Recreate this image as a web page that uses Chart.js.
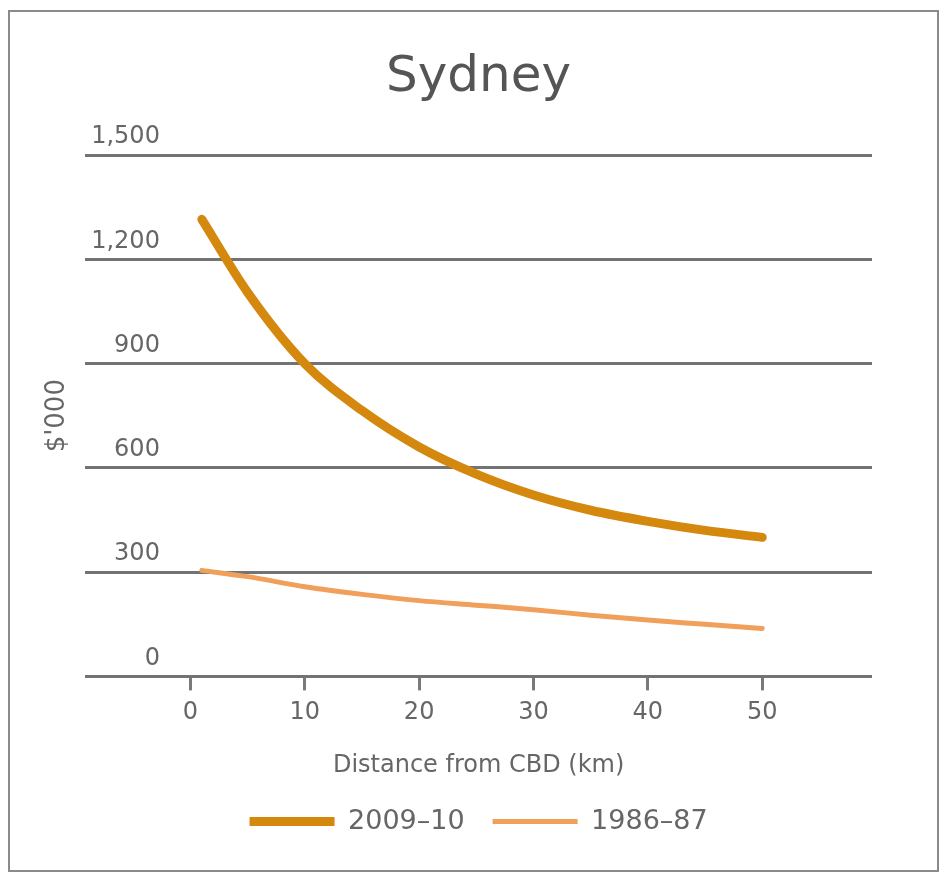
<!DOCTYPE html>
<html>
<head>
<meta charset="utf-8">
<script src="https://cdn.jsdelivr.net/npm/chart.js@4"></script>
<style>
    body { margin: 0; background: #fff; }
    #wrap { position: relative; width: 939px; height: 873px; }
    #frame {
        position: absolute; left: 8px; top: 10px; width: 927px; height: 858px;
        border: 2px solid #8a8a8a; pointer-events: none;
    }
</style>
</head>
<body>
<div id="wrap">
    <canvas id="sydney"></canvas>
    <div id="frame"></div>
</div>
<script>
// distance from CBD (km)
const distances = [1, 5, 10, 15, 20, 25, 30, 35, 40, 45, 50];
// dwelling prices $'000
const prices2009 = [1315, 1105, 900, 765, 660, 582, 522, 478, 446, 420, 400];
const prices1986 = [305, 287, 258, 236, 218, 205, 192, 176, 162, 150, 138];
// tick labels
const xTicks = [0, 10, 20, 30, 40, 50];
const yTicks = [0, 300, 600, 900, 1200, 1500];

const FONT = "'DejaVu Sans', sans-serif";
const GREY = "#666";

// pair the distances with each series
const toPoints = (values) => values.map((v, i) => ({ x: distances[i], y: v }));

const context = document.getElementById("sydney").getContext("2d");
const sydneyChart = new Chart(context, {
    type: "line",
    data: {
        datasets: [
            {
                label: "2009\u201310",
                data: toPoints(prices2009),
                borderColor: "#D4880E",
                backgroundColor: "#D4880E",
                borderWidth: 9,
                pointStyle: "line",
            },
            {
                label: "1986\u201387",
                data: toPoints(prices1986),
                borderColor: "#F0A05A",
                backgroundColor: "#F0A05A",
                borderWidth: 5,
                pointStyle: "line",
            },
        ],
    },
    options: {
        responsive: true,
        maintainAspectRatio: false,
        animation: false,
        layout: { padding: { left: 36, right: 67, top: 0, bottom: 28 } },
        elements: {
            point: { radius: 0, hoverRadius: 0 },
            line: { cubicInterpolationMode: "monotone", borderCapStyle: "round" },
        },
        plugins: {
            tooltip: { enabled: false },
            title: {
                display: true,
                fullSize: false,
                text: "Sydney",
                color: "#555",
                font: { family: FONT, size: 50, weight: "normal" },
                padding: { top: 48, bottom: 47 },
            },
            legend: {
                position: "bottom",
                fullSize: false,
                labels: {
                    usePointStyle: true,
                    pointStyleWidth: 85,
                    color: GREY,
                    font: { family: FONT, size: 27 },
                    padding: 28,
                },
            },
        },
        scales: {
            x: {
                type: "linear",
                min: -9.2,
                max: 59.6,
                afterBuildTicks: (axis) => {
                    axis.ticks = xTicks.map((v) => ({ value: v }));
                },
                grid: {
                    drawOnChartArea: false,
                    tickLength: 14,
                    color: "#7a7a7a",
                    tickColor: "#7a7a7a",
                    tickWidth: 3,
                },
                border: { display: false },
                ticks: {
                    color: GREY,
                    font: { family: FONT, size: 24 },
                    padding: 8,
                },
                title: {
                    display: true,
                    text: "Distance from CBD (km)",
                    color: GREY,
                    font: { family: FONT, size: 24 },
                    padding: { top: 16, bottom: 0 },
                },
            },
            y: {
                min: 0,
                max: 1500,
                afterBuildTicks: (axis) => {
                    axis.ticks = yTicks.map((v) => ({ value: v }));
                },
                grid: {
                    color: "#737373",
                    lineWidth: 3,
                    drawTicks: false,
                },
                border: { display: false },
                ticks: {
                    mirror: true,
                    crossAlign: "far",
                    labelOffset: -18,
                    padding: 6,
                    color: GREY,
                    font: { family: FONT, size: 24 },
                },
                title: {
                    display: true,
                    text: "$'000",
                    color: GREY,
                    font: { family: FONT, size: 26 },
                    padding: { top: 6, bottom: 0 },
                },
            },
        },
    },
});
</script>
</body>
</html>
